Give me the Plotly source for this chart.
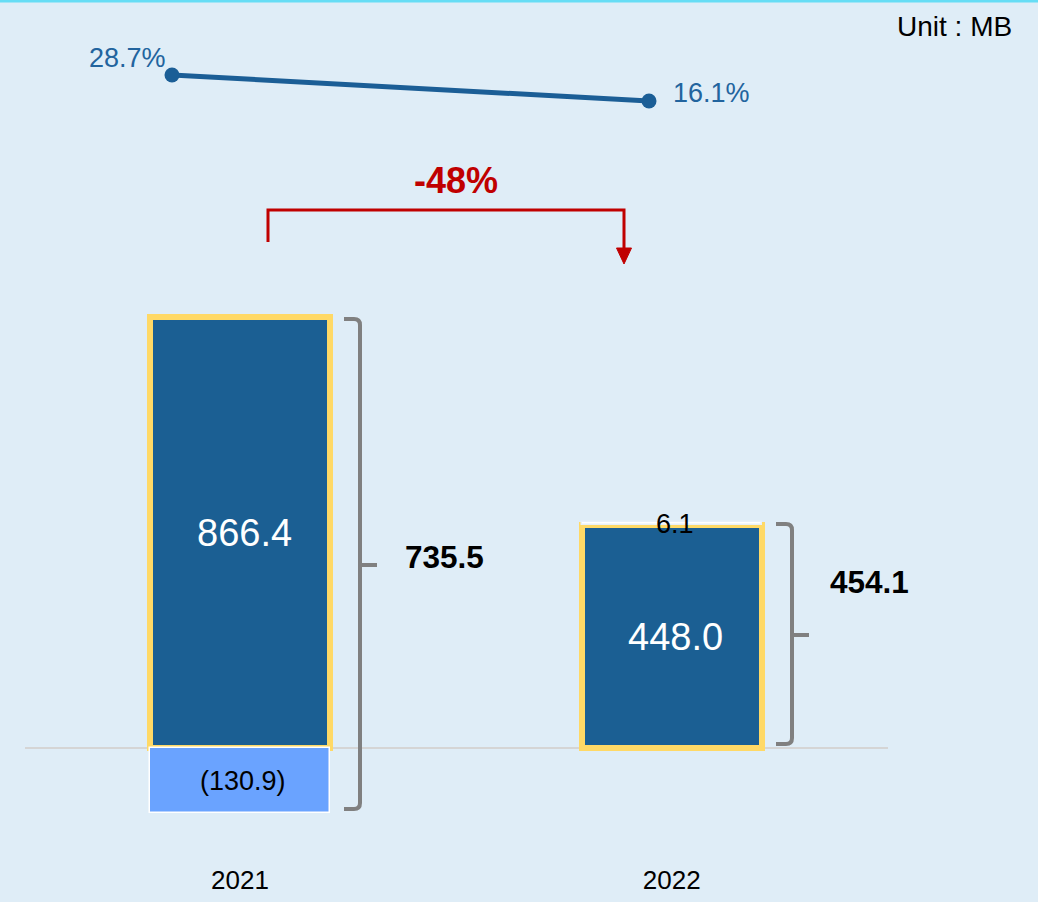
import plotly.graph_objects as go

# ---- data ----
years = ["2021", "2022"]
core_profit = [866.4, 448.0]          # main stacked component
adjustment = [-130.9, 6.1]            # second stacked component
margin_pct = [28.7, 16.1]             # ratio shown on the top line
unit_label = "Unit : MB"

# ---- styling ----
FONT = "Liberation Sans, Arial, sans-serif"
BG = "#DFEDF7"
DARK_BLUE = "#1B5F93"
LIGHT_BLUE = "#6AA3FF"
YELLOW = "#FFD966"
GREY = "#808080"
RED = "#C00000"
LINE_BLUE = "#1B5E96"

W, H = 1038, 902
MB = 40                      # bottom margin for the year labels
PH = H - MB                  # plot-area height in px


def px(x):
    return x / W


def py(y):
    return 1 - y / PH


totals = [a + b for a, b in zip(core_profit, adjustment)]
change = round((core_profit[1] / core_profit[0] - 1) * 100)


def fmt(v):
    return f"({abs(v):.1f})" if v < 0 else f"{v:.1f}"


fig = go.Figure()

fig.add_trace(go.Bar(
    x=years, y=core_profit, width=0.417,
    marker=dict(color=DARK_BLUE, line=dict(color=YELLOW, width=6)),
    hoverinfo="skip", showlegend=False,
))
fig.add_trace(go.Bar(
    x=years, y=adjustment, width=0.417,
    marker=dict(color=[LIGHT_BLUE if v < 0 else "#FFFFFF" for v in adjustment],
                line=dict(color=["#FFFFFF", "#E8F0F8"], width=1.5)),
    hoverinfo="skip", showlegend=False,
))
fig.add_trace(go.Scatter(
    x=years, y=margin_pct, xaxis="x2", yaxis="y2",
    mode="lines+markers",
    line=dict(color=LINE_BLUE, width=5),
    marker=dict(color=LINE_BLUE, size=15),
    hoverinfo="skip", showlegend=False,
))

annotations = []
# values inside the bars (category index used as x position)
for i, v in enumerate(core_profit):
    annotations.append(dict(x=i, y=v / 2, xref="x", yref="y", text=fmt(v),
                            showarrow=False, xanchor="center", yanchor="middle",
                            xshift=4,
                            font=dict(family=FONT, size=38, color="white")))
for i, (base, v) in enumerate(zip(core_profit, adjustment)):
    yc = v / 2 if v < 0 else base + v / 2
    annotations.append(dict(x=i, y=yc, xref="x", yref="y", text=fmt(v),
                            showarrow=False, xanchor="center", yanchor="middle",
                            xshift=3,
                            font=dict(family=FONT, size=27, color="black")))

# bracket totals
total_pos = [(403, 557), (828, 582)]
for t, (lx, ly) in zip(totals, total_pos):
    annotations.append(dict(x=px(lx), y=py(ly), xref="paper", yref="paper",
                            xanchor="left", yanchor="middle", text=f"<b>{t:.1f}</b>",
                            showarrow=False,
                            font=dict(family=FONT, size=31.5, color="black")))

# percentage labels on the line
annotations.append(dict(x=0, y=margin_pct[0], xref="x2", yref="y2",
                        xanchor="right", yanchor="middle", xshift=-4, yshift=17,
                        text=f"{margin_pct[0]:.1f}%", showarrow=False,
                        font=dict(family=FONT, size=27, color="#22649E")))
annotations.append(dict(x=1, y=margin_pct[1], xref="x2", yref="y2",
                        xanchor="left", yanchor="middle", xshift=22, yshift=8,
                        text=f"{margin_pct[1]:.1f}%", showarrow=False,
                        font=dict(family=FONT, size=27, color="#22649E")))

# change label and unit
annotations.append(dict(x=px(456), y=py(180), xref="paper", yref="paper",
                        xanchor="center", yanchor="middle",
                        text=f"<b>{change}%</b>", showarrow=False,
                        font=dict(family=FONT, size=36, color=RED)))
annotations.append(dict(x=px(1014), y=py(26), xref="paper", yref="paper",
                        xanchor="right", yanchor="middle", text=unit_label,
                        showarrow=False,
                        font=dict(family=FONT, size=28, color="black")))

shapes = []
# top accent border
shapes.append(dict(type="rect", xref="paper", yref="paper",
                   x0=0, x1=1, y0=py(0), y1=py(2.5),
                   fillcolor="#66DDF5", line=dict(width=0), layer="above"))
# zero baseline
shapes.append(dict(type="line", xref="paper", yref="y",
                   x0=px(25), x1=px(888), y0=0, y1=0,
                   line=dict(color="#D5D5D5", width=2), layer="below"))

# brackets to the right of each stacked bar
unit_px = 431 / 866.4
bracket_x = [(344, 360, 377), (776, 792, 809)]
for (x0, xv, xt), a, b in zip(bracket_x, core_profit, adjustment):
    top = max(a, a + b) - 2 / unit_px
    bot = min(0, b) + 4 / unit_px
    mid = (max(a, a + b) + min(0, b)) / 2
    rx, ry = 6 / W, 6 / unit_px
    X0, XV, XT = px(x0), px(xv), px(xt)
    path = (f"M {X0},{top} L {XV - rx},{top} Q {XV},{top} {XV},{top - ry} "
            f"L {XV},{bot + ry} Q {XV},{bot} {XV - rx},{bot} L {X0},{bot} "
            f"M {XV},{mid} L {XT},{mid}")
    shapes.append(dict(type="path", xref="paper", yref="y", path=path,
                       line=dict(color=GREY, width=4)))

# red change arrow
arrow = (f"M {px(268)},{py(242)} L {px(268)},{py(210)} "
         f"L {px(624)},{py(210)} L {px(624)},{py(250)}")
shapes.append(dict(type="path", xref="paper", yref="paper", path=arrow,
                   line=dict(color=RED, width=3)))
head = (f"M {px(616.5)},{py(248)} L {px(631.5)},{py(248)} "
        f"L {px(624)},{py(264)} Z")
shapes.append(dict(type="path", xref="paper", yref="paper", path=head,
                   fillcolor=RED, line=dict(color=RED, width=1)))

# axis ranges (bar axis: zero at 748 px; line axis places the ratios near the top)
bar_ymax = 748 / unit_px
bar_ymin = -(PH - 748) / unit_px
pct_px = 26 / (margin_pct[0] - margin_pct[1])
pct_ymax = margin_pct[0] + 75 / pct_px
pct_ymin = pct_ymax - PH / pct_px

fig.update_layout(
    width=W, height=H,
    margin=dict(l=0, r=0, t=0, b=MB),
    paper_bgcolor=BG, plot_bgcolor=BG,
    barmode="relative", bargap=0,
    font=dict(family=FONT),
    xaxis=dict(type="category", categoryorder="array", categoryarray=years,
               range=[-240 / 431.7, (W - 240) / 431.7],
               showgrid=False, zeroline=False, showline=False, ticks="",
               tickfont=dict(family=FONT, size=26, color="black"),
               fixedrange=True),
    yaxis=dict(range=[bar_ymin, bar_ymax], visible=False, fixedrange=True),
    xaxis2=dict(type="category", categoryorder="array", categoryarray=years,
                range=[-172 / 477, (W - 172) / 477], overlaying="x",
                anchor="y2", visible=False),
    yaxis2=dict(range=[pct_ymin, pct_ymax], overlaying="y", anchor="x2",
                visible=False),
    annotations=annotations,
    shapes=shapes,
)

fig.write_html("out.html")
